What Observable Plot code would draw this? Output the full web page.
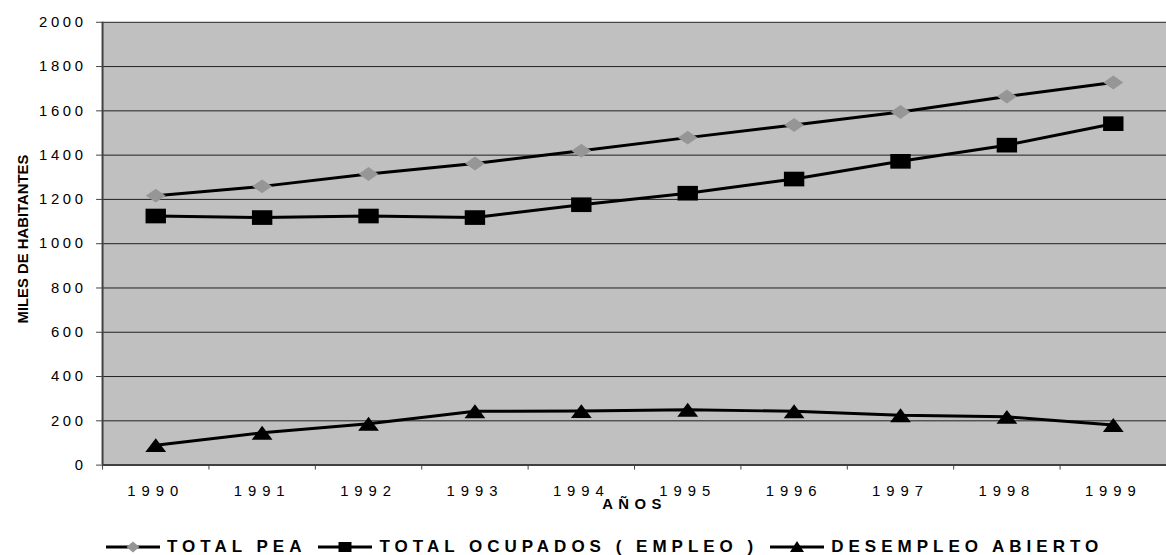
<!DOCTYPE html>
<html>
<head>
<meta charset="utf-8">
<script src="https://cdn.jsdelivr.net/npm/d3@7"></script>
<script src="https://cdn.jsdelivr.net/npm/@observablehq/plot@0.6"></script>
<style>
html, body { margin: 0; padding: 0; background: #fff; overflow: hidden; }
#wrap { width: 1166px; height: 555px; overflow: hidden; position: relative; font-family: "Liberation Sans", Arial, sans-serif; }
#chart svg { display: block; }
[aria-label="y-axis tick label"] text { letter-spacing: 3.7px; }
[aria-label="x-axis tick label"] text { letter-spacing: 6px; }
text[aria-label="x title"] { letter-spacing: 5.5px; }
#legend { position: absolute; left: 106px; top: 537px; height: 20px; display: flex; align-items: center; white-space: nowrap; }
#legend .item { display: flex; align-items: center; margin-right: 12px; }
#legend svg { display: block; }
#legend span { margin-left: 7px; font-weight: bold; font-size: 17px; line-height: 20px; letter-spacing: 5px; color: #000; }
</style>
</head>
<body>
<div id="wrap">
  <div id="chart"></div>
  <div id="legend"></div>
</div>
<script>
// ---- data ----
const years = [1990, 1991, 1992, 1993, 1994, 1995, 1996, 1997, 1998, 1999];
const totalPea = [1217, 1259, 1315, 1362, 1420, 1479, 1536, 1595, 1665, 1728];
const totalOcupados = [1125, 1118, 1125, 1118, 1176, 1228, 1292, 1372, 1445, 1542];
const desempleoAbierto = [90, 146, 187, 243, 244, 250, 243, 225, 218, 181];
const yTicks = [0, 200, 400, 600, 800, 1000, 1200, 1400, 1600, 1800, 2000];
const seriesNames = ["TOTAL PEA", "TOTAL OCUPADOS ( EMPLEO )", "DESEMPLEO ABIERTO"];
const xTitle = "AÑOS";
const yTitle = "MILES DE HABITANTES";

// ---- derived tables ----
const toRows = (vals, s) => years.map((y, i) => ({year: y, value: vals[i], series: s}));
const peaRows = toRows(totalPea, seriesNames[0]);
const ocuRows = toRows(totalOcupados, seriesNames[1]);
const desRows = toRows(desempleoAbierto, seriesNames[2]);
const bandEdges = [years[0] - 0.5, ...years.map(y => y + 0.5)];

// ---- marker shapes (wide, as in the reference) ----
const diamond = {draw(ctx, size) { const r = Math.sqrt(size / Math.PI); const w = r, h = r * 0.7;
  ctx.moveTo(0, -h); ctx.lineTo(w, 0); ctx.lineTo(0, h); ctx.lineTo(-w, 0); ctx.closePath(); }};
const square = {draw(ctx, size) { const r = Math.sqrt(size / Math.PI); const w = r * 1.03, h = r * 0.74;
  ctx.rect(-w, -h, 2 * w, 2 * h); }};
const triangle = {draw(ctx, size) { const r = Math.sqrt(size / Math.PI); const w = r * 1.05, h = r * 0.7;
  ctx.moveTo(0, -h); ctx.lineTo(w, h); ctx.lineTo(-w, h); ctx.closePath(); }};

const chart = Plot.plot({
  width: 1177,
  height: 522,
  marginLeft: 103,
  marginRight: 0,
  marginTop: 22,
  marginBottom: 53,
  style: {fontFamily: "'Liberation Sans', Arial, sans-serif", fontSize: "15px", color: "#000", background: "transparent"},
  x: {domain: [years[0] - 0.5, years[years.length - 1] + 0.5], axis: null},
  y: {domain: [0, 2000], axis: null},
  marks: [
    Plot.frame({fill: "#c0c0c0", stroke: "none"}),
    Plot.ruleY(yTicks.filter(d => d > 0), {stroke: "#1e1e1e", strokeWidth: 1}),
    Plot.axisY({ticks: yTicks, tickSize: 6, tickPadding: 10, tickFormat: d => String(d), stroke: "#404040", fontSize: 15, label: null}),
    Plot.axisX({ticks: bandEdges, tickSize: 5, tickFormat: () => "", stroke: "#404040", label: null}),
    Plot.axisX({ticks: years, tickSize: 0, tickPadding: 21, tickFormat: d => String(d), fontSize: 15, label: null}),
    Plot.ruleX([years[0] - 0.5], {stroke: "#404040", strokeWidth: 2}),
    Plot.ruleY([0], {stroke: "#404040", strokeWidth: 2}),
    Plot.line(peaRows, {x: "year", y: "value", stroke: "#000", strokeWidth: 3}),
    Plot.line(ocuRows, {x: "year", y: "value", stroke: "#000", strokeWidth: 3}),
    Plot.line(desRows, {x: "year", y: "value", stroke: "#000", strokeWidth: 3}),
    Plot.dot(peaRows, {x: "year", y: "value", symbol: diamond, r: 10, fill: "#969696", stroke: "none"}),
    Plot.dot(ocuRows, {x: "year", y: "value", symbol: square, r: 10, fill: "#000", stroke: "none"}),
    Plot.dot(desRows, {x: "year", y: "value", symbol: triangle, r: 10, fill: "#000", stroke: "none"}),
    Plot.text([xTitle], {frameAnchor: "bottom", lineAnchor: "top", dy: 34, fontWeight: "bold", fontSize: 15, fill: "#000", ariaLabel: () => "x title"}),
    Plot.text([yTitle], {frameAnchor: "left", rotate: -90, textAnchor: "start", lineAnchor: "middle", dx: -79.6, dy: 80.5, fontWeight: "bold", fontSize: 15, fill: "#000"})
  ]
});
document.getElementById("chart").appendChild(chart);

// ---- legend ----
const legendShapes = [
  `<polygon points="27,1.5 33.5,7 27,12.5 20.5,7" fill="#969696"/>`,
  `<rect x="20.5" y="2" width="13" height="10" fill="#000"/>`,
  `<polygon points="27,1 34,12 20,12" fill="#000"/>`
];
const legend = document.getElementById("legend");
seriesNames.forEach((name, i) => {
  const item = document.createElement("div");
  item.className = "item";
  item.innerHTML = `<svg width="54" height="14" viewBox="0 0 54 14"><line x1="0" y1="7" x2="54" y2="7" stroke="#000" stroke-width="3"/>${legendShapes[i]}</svg><span>${name}</span>`;
  legend.appendChild(item);
});
</script>
</body>
</html>
